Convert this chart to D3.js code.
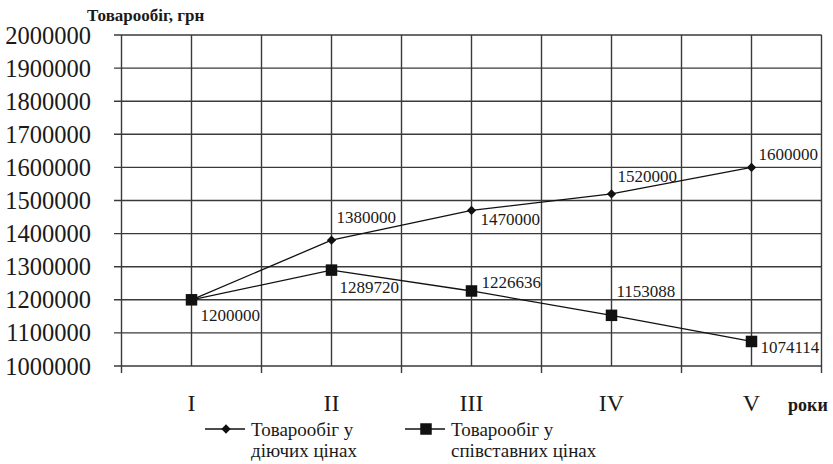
<!DOCTYPE html>
<html>
<head>
<meta charset="utf-8">
<script src="https://cdn.jsdelivr.net/npm/d3@7"></script>
<style>
  html, body { margin: 0; padding: 0; background: #fff; }
  svg { display: block; }
  text { font-family: "Liberation Serif", "Times New Roman", serif; fill: #1a1a1a; }
</style>
</head>
<body>
<svg id="chart" width="833" height="464" font-family="Liberation Serif"></svg>
<script>
// Years (Roman numerals) and turnover, UAH
const years = ["I", "II", "III", "IV", "V"];
const currentPrices = [1200000, 1380000, 1470000, 1520000, 1600000];
const comparablePrices = [1200000, 1289720, 1226636, 1153088, 1074114];
const yTicks = [1000000, 1100000, 1200000, 1300000, 1400000, 1500000,
                1600000, 1700000, 1800000, 1900000, 2000000];
const seriesNames = [["Товарообіг у", "діючих цінах"], ["Товарообіг у", "співставних цінах"]];

// Label placement relative to each point (dx, dy to the text baseline)
const currentLabelOffsets = [null, [5, -17], [9, 15], [6, -12], [7, -7]];
const comparableLabelOffsets = [[9, 21], [8, 23], [10, -3], [5, -18], [9, 12]];

const svg = d3.select("#chart");
const plot = { left: 121.5, right: 821.5, top: 35, bottom: 366 };

const x = d3.scaleBand().domain(years).range([plot.left, plot.right]);
const y = d3.scaleLinear().domain([1000000, 2000000]).range([plot.bottom, plot.top]);
const cx = d => x(d) + x.bandwidth() / 2;

const gridColor = "#3a3a3a";
const grid = svg.append("g");

// Horizontal gridlines, extended left as tick marks
grid.selectAll("line.h").data(yTicks).join("line")
  .attr("x1", plot.left - 7.5).attr("x2", plot.right)
  .attr("y1", d => y(d)).attr("y2", d => y(d))
  .attr("stroke", gridColor).attr("stroke-width", 1.4);

// Vertical lines at category boundaries (with ticks below the axis)
const edges = years.map(d => x(d)).concat([plot.right]);
grid.selectAll("line.edge").data(edges).join("line")
  .attr("x1", d => d).attr("x2", d => d)
  .attr("y1", plot.top).attr("y2", plot.bottom + 7)
  .attr("stroke", gridColor).attr("stroke-width", 1.4);

// Vertical lines through category centers
grid.selectAll("line.mid").data(years).join("line")
  .attr("x1", d => cx(d)).attr("x2", d => cx(d))
  .attr("y1", plot.top).attr("y2", plot.bottom)
  .attr("stroke", gridColor).attr("stroke-width", 1.4);

// Y tick labels
svg.append("g").selectAll("text").data(yTicks).join("text")
  .attr("x", 91).attr("y", d => y(d) + 8.5)
  .attr("text-anchor", "end")
  .attr("font-size", 24.5)
  .text(d => d3.format("d")(d));

// Category labels
svg.append("g").selectAll("text").data(years).join("text")
  .attr("x", d => cx(d)).attr("y", 411)
  .attr("text-anchor", "middle")
  .attr("font-size", 24)
  .text(d => d);

// Axis titles
svg.append("text").attr("x", 87).attr("y", 21)
  .attr("font-size", 17).attr("font-weight", "bold")
  .text("Товарообіг, грн");
svg.append("text").attr("x", 788).attr("y", 411)
  .attr("font-size", 18).attr("font-weight", "bold")
  .text("роки");

// Series lines
const line = d3.line().x((d, i) => cx(years[i])).y(d => y(d));
svg.append("path").datum(currentPrices).attr("d", line)
  .attr("fill", "none").attr("stroke", "#111").attr("stroke-width", 1.3);
svg.append("path").datum(comparablePrices).attr("d", line)
  .attr("fill", "none").attr("stroke", "#111").attr("stroke-width", 1.3);

// Markers
const diamond = d3.symbol().type(d3.symbolDiamond2).size(55);
svg.append("g").selectAll("path").data(currentPrices).join("path")
  .attr("d", diamond)
  .attr("transform", (d, i) => `translate(${cx(years[i])},${y(d)})`)
  .attr("fill", "#111");
svg.append("g").selectAll("rect").data(comparablePrices).join("rect")
  .attr("x", (d, i) => cx(years[i]) - 5.75).attr("y", d => y(d) - 5.75)
  .attr("width", 11.5).attr("height", 11.5)
  .attr("fill", "#111");

// Value labels
const labelLayer = svg.append("g").attr("font-size", 17);
currentPrices.forEach((v, i) => {
  const off = currentLabelOffsets[i];
  if (!off) return;
  labelLayer.append("text")
    .attr("x", cx(years[i]) + off[0]).attr("y", y(v) + off[1])
    .text(d3.format("d")(v));
});
comparablePrices.forEach((v, i) => {
  const off = comparableLabelOffsets[i];
  labelLayer.append("text")
    .attr("x", cx(years[i]) + off[0]).attr("y", y(v) + off[1])
    .text(d3.format("d")(v));
});

// Legend
const legend = svg.append("g");
const legendItems = [{ x: 205, marker: "diamond" }, { x: 405, marker: "square" }];
legendItems.forEach((item, k) => {
  const g = legend.append("g").attr("transform", `translate(${item.x},429)`);
  g.append("line").attr("x1", 0).attr("x2", 40).attr("y1", 0).attr("y2", 0)
    .attr("stroke", "#111").attr("stroke-width", 1.3);
  if (item.marker === "diamond") {
    g.append("path").attr("d", diamond).attr("transform", "translate(21,0)").attr("fill", "#111");
  } else {
    g.append("rect").attr("x", 15.25).attr("y", -5.75).attr("width", 11.5).attr("height", 11.5).attr("fill", "#111");
  }
  seriesNames[k].forEach((t, j) => {
    g.append("text").attr("x", 46).attr("y", 7 + j * 21)
      .attr("font-size", 19).text(t);
  });
});
</script>
</body>
</html>
